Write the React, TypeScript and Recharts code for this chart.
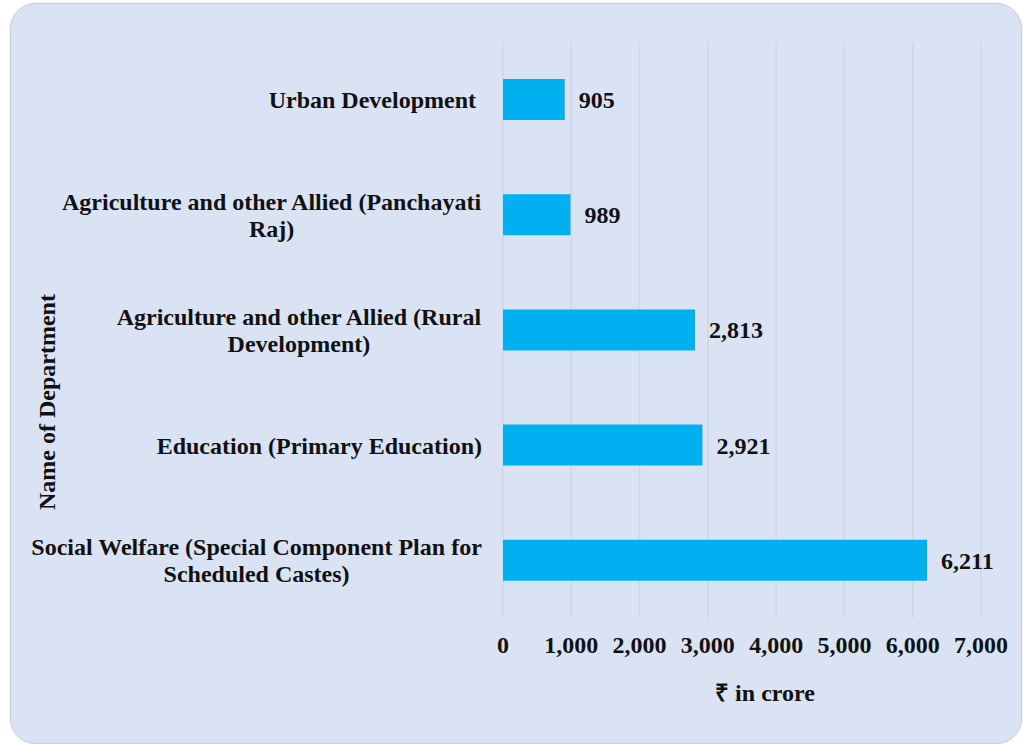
import React from "react";
import { BarChart, Bar, XAxis, YAxis, CartesianGrid, LabelList } from "recharts";

const departments = [
  "Urban Development ",
  "Agriculture and other Allied (Panchayati\nRaj)",
  "Agriculture and other Allied (Rural\nDevelopment)",
  "Education (Primary Education)",
  "Social Welfare (Special Component Plan for\nScheduled Castes)",
];
const amounts = [905, 989, 2813, 2921, 6211];
const xTicks = [0, 1000, 2000, 3000, 4000, 5000, 6000, 7000];

const data = departments.map((name, i) => ({ name, value: amounts[i] }));

const FONT = "'Liberation Serif', 'Times New Roman', serif";
const FS = 24;
const fmt = (v: number) => v.toLocaleString("en-US");

let ctx: CanvasRenderingContext2D | null = null;
const measure = (s: string) => {
  if (!ctx) {
    ctx = document.createElement("canvas").getContext("2d");
    if (ctx) ctx.font = `bold ${FS}px ${FONT}`;
  }
  return ctx ? ctx.measureText(s).width : s.length * 11;
};

// category label: block right-aligned, lines centred within it
const DeptTick = ({ x, y, payload }: any) => {
  const lines = String(payload.value).split("\n");
  const w = Math.max(...lines.map(measure));
  const cx = x - 13 - w / 2;
  const lh = 27;
  const y0 = y - ((lines.length - 1) * lh) / 2;
  return (
    <text textAnchor="middle" fontFamily={FONT} fontWeight="bold" fontSize={FS} fill="#111" style={{ whiteSpace: "pre" }}>
      {lines.map((l, i) => (
        <tspan key={i} x={cx} y={y0 + i * lh} dy="0.35em">
          {l}
        </tspan>
      ))}
    </text>
  );
};

export default function App() {
  return (
    <div style={{ position: "absolute", left: 0, top: 0, width: 1024, height: 744, overflow: "hidden", background: "#fff" }}>
      <div
        style={{
          position: "absolute",
          left: 10,
          top: 3,
          width: 1010,
          height: 739,
          background: "#dae3f3",
          border: "1px solid #cfcfcf",
          borderRadius: 26,
          boxShadow: "0 0 2px rgba(0,0,0,0.15)",
        }}
      />
      <div style={{ position: "absolute", left: 0, top: 0 }}>
        <BarChart
          width={1024}
          height={744}
          data={data}
          layout="vertical"
          margin={{ top: 42, right: 43, bottom: 96, left: 0 }}
        >
          <CartesianGrid horizontal={false} stroke="#d3d6dc" strokeWidth={1.5} />
          <XAxis
            type="number"
            domain={[0, 7000]}
            ticks={xTicks}
            tickFormatter={fmt}
            axisLine={false}
            tickLine={false}
            tickMargin={12}
            tick={{ fontFamily: FONT, fontWeight: "bold", fontSize: FS, fill: "#111" }}
            label={{
              content: () => (
                <text x={765} y={693} dy="0.35em" textAnchor="middle" fontFamily={FONT} fontWeight="bold" fontSize={FS} fill="#111">
                  ₹ in crore
                </text>
              ),
            }}
          />
          <YAxis
            type="category"
            dataKey="name"
            width={503}
            axisLine={false}
            tickLine={false}
            tick={<DeptTick />}
            interval={0}
            label={{
              content: () => (
                <text
                  x={47}
                  y={402}
                  transform="rotate(-90 47 402)"
                  textAnchor="middle"
                  dominantBaseline="central"
                  fontFamily={FONT}
                  fontWeight="bold"
                  fontSize={FS}
                  fill="#111"
                >
                  Name of Department
                </text>
              ),
            }}
          />
          <Bar dataKey="value" fill="#00b0f0" barSize={41} isAnimationActive={false}>
            <LabelList
              dataKey="value"
              position="right"
              offset={14}
              formatter={(v: any) => fmt(Number(v))}
              style={{ fontFamily: FONT, fontWeight: "bold", fontSize: FS, fill: "#111" }}
            />
          </Bar>
        </BarChart>
      </div>
    </div>
  );
}
